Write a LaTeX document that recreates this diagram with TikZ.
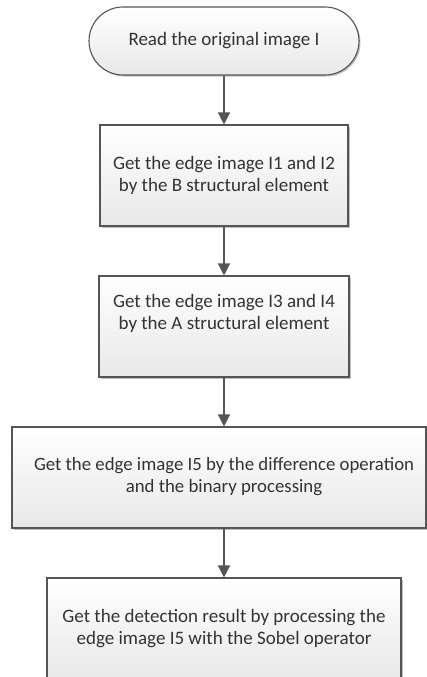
\documentclass[tikz,border=0pt]{standalone}
\usepackage{fontspec}
\setmainfont{Carlito}
\usetikzlibrary{arrows.meta,shadows}
\definecolor{edgecol}{HTML}{555555}
\definecolor{txtcol}{HTML}{333333}
\tikzset{
  flowbox/.style={draw=edgecol, line width=1.1pt, top color=white, bottom color=black!9,
    drop shadow={shadow xshift=1.5pt, shadow yshift=-1.5pt, opacity=0.25, fill=black},
    text=txtcol, align=center, font=\fontsize{19}{22}\selectfont, inner sep=0pt},
  txtonly/.style={text=txtcol, align=center, font=\fontsize{18.8}{22}\selectfont, inner sep=0pt},
  flowarrow/.style={draw=edgecol, line width=1.3pt, -{Triangle[length=12pt,width=12pt]}, fill=edgecol}
}
\begin{document}
\begin{tikzpicture}[x=1pt,y=-1pt]
\useasboundingbox (0,0) rectangle (427,677);
\clip (0,0) rectangle (427,677);
\fill[white] (0,0) rectangle (427,677);
\node[flowbox, rounded corners=34pt, minimum width=270pt, minimum height=68pt] (start) at (224,41) {Read the original image I};
\node[flowbox, minimum width=248pt, minimum height=101pt] (b2) at (224,175.5) {Get the edge image I1 and I2\\by the B structural element};
\node[flowbox, minimum width=250pt, minimum height=101pt] (b3) at (224,326.5) {Get the edge image I3 and I4\\by the A structural element\\\strut};
\node[flowbox, minimum width=414pt, minimum height=101pt] (b4) at (219,477.5) {};
\node[txtonly] (t4) at (224,477) {Get the edge image I5 by the difference operation\\and the binary processing};
\node[flowbox, minimum width=354pt, minimum height=102pt] (b5) at (224,629) {Get the detection result by processing the\\edge image I5 with the Sobel operator};
\draw[flowarrow] (start.south) -- (b2.north);
\draw[flowarrow] (b2.south) -- (b3.north);
\draw[flowarrow] (b3.south) -- (b3.south |- b4.north);
\draw[flowarrow] (b3.south |- b4.south) -- (b5.north);
\end{tikzpicture}
\end{document}
